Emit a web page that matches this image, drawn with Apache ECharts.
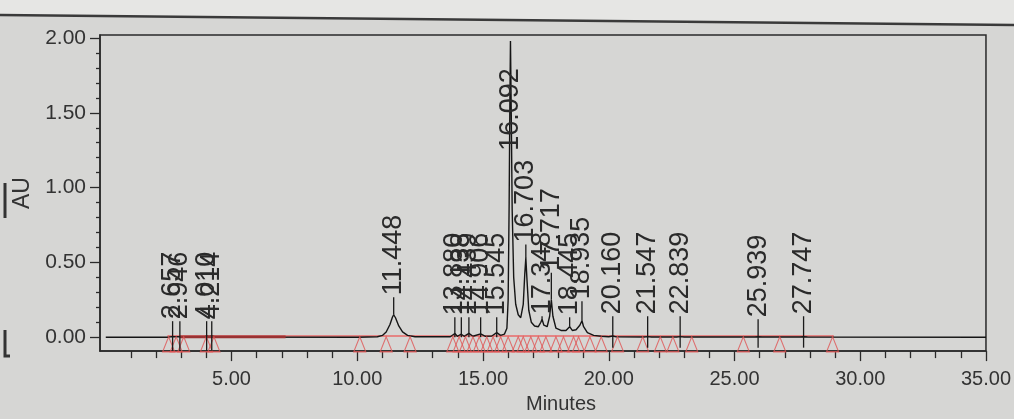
<!DOCTYPE html>
<html><head><meta charset="utf-8">
<script src="https://cdn.jsdelivr.net/npm/echarts@6/dist/echarts.min.js"></script>
<style>html,body{margin:0;padding:0;background:#d6d6d4;}#c{width:1014px;height:419px;}</style>
</head><body><div id="c"></div>
<script>
// ---- data ----
const traceTime = [0, 2.5, 2.62, 2.657, 2.75, 2.9, 2.946, 3.05, 3.9, 4.01, 4.1, 4.214, 4.35,
  10.0, 10.8, 11.0, 11.15, 11.3, 11.4, 11.448, 11.52, 11.65, 11.8, 12.0, 12.3,
  13.7, 13.88, 13.98, 14.138, 14.25, 14.439, 14.6, 14.906, 15.1, 15.35, 15.545, 15.7, 15.85, 15.95,
  16.0, 16.04, 16.07, 16.092, 16.12, 16.16, 16.22, 16.3, 16.4, 16.5, 16.6, 16.66, 16.703, 16.75, 16.82, 16.92,
  17.05, 17.2, 17.3, 17.348, 17.42, 17.55, 17.65, 17.717, 17.78, 17.9, 18.1, 18.3, 18.445, 18.55, 18.7, 18.85,
  18.935, 19.0, 19.15, 19.4, 19.7, 20.0, 20.16, 20.3, 21.4, 21.547, 21.7, 22.7, 22.839, 23.0, 25.8, 25.939, 26.1,
  27.6, 27.747, 27.9, 35];
const traceAU = [0, 0, 0.004, 0.012, 0.003, 0.004, 0.01, 0.002, 0.001, 0.008, 0.003, 0.008, 0.001,
  0, 0.003, 0.012, 0.035, 0.085, 0.135, 0.15, 0.13, 0.075, 0.035, 0.012, 0.003,
  0.003, 0.025, 0.006, 0.02, 0.006, 0.025, 0.006, 0.022, 0.006, 0.008, 0.03, 0.012, 0.02, 0.06,
  0.25, 0.9, 1.6, 1.98, 1.55, 0.85, 0.4, 0.22, 0.15, 0.13, 0.22, 0.42, 0.53, 0.38, 0.18, 0.1,
  0.075, 0.07, 0.1, 0.12, 0.08, 0.07, 0.14, 0.25, 0.14, 0.06, 0.045, 0.045, 0.07, 0.045, 0.05, 0.08,
  0.11, 0.07, 0.03, 0.012, 0.006, 0.003, 0.008, 0.002, 0.001, 0.004, 0.001, 0.001, 0.004, 0.001, 0.001, 0.003, 0.001,
  0.001, 0.003, 0.001, 0];

const peakLabels = ['2.657', '2.946', '4.010', '4.214', '11.448', '13.880', '14.138', '14.439', '14.906', '15.545',
  '16.092', '16.703', '17.348', '17.717', '18.445', '18.935', '20.160', '21.547', '22.839', '25.939', '27.747'];
const peakTimes = [2.657, 2.946, 4.010, 4.214, 11.448, 13.880, 14.138, 14.439, 14.906, 15.545,
  16.092, 16.703, 17.348, 17.717, 18.445, 18.935, 20.160, 21.547, 22.839, 25.939, 27.747];
const stemLow = [-0.09, -0.09, -0.09, -0.09, 0.15, 0.0, 0.0, 0.0, 0.0, 0.0,
  1.233, 0.53, 0.12, 0.25, 0.07, 0.11, -0.07, -0.07, -0.07, -0.07, -0.07];
const labelBase = [0.107, 0.107, 0.107, 0.107, 0.267, 0.133, 0.133, 0.133, 0.133, 0.133,
  1.233, 0.62, 0.14, 0.43, 0.133, 0.24, 0.14, 0.14, 0.14, 0.12, 0.14];

const triTimes = [2.5, 2.8, 3.1, 4.0, 4.3, 10.1, 11.15, 12.1, 13.8, 14.05, 14.3, 14.6, 14.85, 15.15, 15.4, 15.7,
  16.0, 16.4, 16.6, 16.9, 17.2, 17.5, 17.9, 18.2, 18.6, 18.8, 19.25, 19.7, 20.35, 21.35, 22.05, 22.55, 23.3,
  25.35, 26.8, 28.9];
const triLevel = -0.047;

const baselineTimes = [2.45, 28.95];
const baselineAU = [0.008, 0.008];
const darkBaseTimes = [2.95, 7.15];
const darkBaseAU = [0.002, 0.002];

const xMajorTicks = [5, 10, 15, 20, 25, 30, 35];
const xMinorTicks = [1, 2, 3, 4, 6, 7, 8, 9, 11, 12, 13, 14, 16, 17, 18, 19, 21, 22, 23, 24, 26, 27, 28, 29, 31, 32, 33, 34];
const yMajorTicks = [0, 0.5, 1.0, 1.5, 2.0];
const yMinorTicks = [0.1, 0.2, 0.3, 0.4, 0.6, 0.7, 0.8, 0.9, 1.1, 1.2, 1.3, 1.4, 1.6, 1.7, 1.8, 1.9];

// ---- chart ----
const FONT = "'Liberation Sans', Arial, sans-serif";
const AX = '#2a2a2a';
const XMIN = -0.23, XMAX = 35, YMIN = -0.093, YMAX = 2.02;
const chart = echarts.init(document.getElementById('c'));

const trace = traceTime.map((t, i) => [t, traceAU[i]]);
const labelsData = peakTimes.map((t, i) => [t, stemLow[i], labelBase[i]]);

const option = {
  backgroundColor: '#d6d6d4',
  animation: false,
  graphic: [
    {type: 'polygon', shape: {points: [[0, 0], [1014, 0], [1014, 25], [0, 15]]}, style: {fill: '#e6e6e4'}, z: -10},
    {type: 'line', shape: {x1: 0, y1: 15, x2: 1014, y2: 25}, style: {stroke: '#3a3a3a', lineWidth: 2.5}},
    {type: 'line', shape: {x1: 5, y1: 183, x2: 5, y2: 218}, style: {stroke: '#333', lineWidth: 3}},
    {type: 'polyline', shape: {points: [[5, 330], [5, 356], [10, 356]]}, style: {stroke: '#333', lineWidth: 3, fill: null}}
  ],
  grid: {left: 100, right: 17, top: 35, bottom: 67, show: true, borderColor: AX, borderWidth: 1.5, backgroundColor: 'transparent'},
  xAxis: [
    {type: 'value', min: XMIN, max: XMAX, position: 'bottom',
      axisLine: {show: true, onZero: false, lineStyle: {color: AX, width: 1.5}},
      axisTick: {show: true, customValues: xMajorTicks, length: 10, lineStyle: {color: AX, width: 1.3}},
      axisLabel: {show: true, customValues: xMajorTicks, formatter: v => Number(v).toFixed(2),
        fontSize: 20, fontFamily: FONT, color: '#333', margin: 18},
      splitLine: {show: false},
      name: 'Minutes', nameLocation: 'middle', nameGap: 41,
      nameTextStyle: {fontSize: 20, fontFamily: FONT, color: '#333', padding: [0, 0, 0, 36]}},
    {type: 'value', min: XMIN, max: XMAX, position: 'bottom',
      axisLine: {show: false, onZero: false},
      axisTick: {show: true, customValues: xMinorTicks, length: 7, lineStyle: {color: AX, width: 1.3}},
      axisLabel: {show: false}, splitLine: {show: false}}
  ],
  yAxis: [
    {type: 'value', min: YMIN, max: YMAX, position: 'left',
      axisLine: {show: true, onZero: false, lineStyle: {color: AX, width: 1.5}},
      axisTick: {show: true, customValues: yMajorTicks, length: 10, lineStyle: {color: AX, width: 1.3}},
      axisLabel: {show: true, customValues: yMajorTicks, formatter: v => Number(v).toFixed(2),
        fontSize: 21, fontFamily: FONT, color: '#333', margin: 14},
      splitLine: {show: false},
      name: 'AU', nameLocation: 'middle', nameGap: 65, nameRotate: 90,
      nameTextStyle: {fontSize: 23, fontFamily: FONT, color: '#333', padding: [0, 0, 0, 0]}},
    {type: 'value', min: YMIN, max: YMAX, position: 'left',
      axisLine: {show: false, onZero: false},
      axisTick: {show: true, customValues: yMinorTicks, length: 4, lineStyle: {color: AX, width: 1.3}},
      axisLabel: {show: false}, splitLine: {show: false}}
  ],
  series: [
    {type: 'line', name: 'baseline', data: baselineTimes.map((t, i) => [t, baselineAU[i]]),
      symbol: 'none', lineStyle: {color: '#e86a6a', width: 1.4}, z: 2, silent: true},
    {type: 'line', name: 'baseline2', data: darkBaseTimes.map((t, i) => [t, darkBaseAU[i]]),
      symbol: 'none', lineStyle: {color: '#9a3232', width: 2.6}, z: 4, silent: true},
    {type: 'line', name: 'trace', data: trace, symbol: 'none',
      lineStyle: {color: '#151515', width: 1.4}, z: 3, silent: true},
    {type: 'scatter', name: 'marks', data: triTimes.map(t => [t, triLevel]),
      symbol: 'triangle', symbolSize: [12, 15],
      itemStyle: {color: 'rgba(0,0,0,0)', borderColor: '#e05555', borderWidth: 1.2}, z: 5, silent: true},
    {type: 'custom', name: 'labels', data: labelsData, z: 6, silent: true, clip: false,
      renderItem: function (params, api) {
        const t = api.value(0);
        const p1 = api.coord([t, api.value(1)]);
        const p2 = api.coord([t, api.value(2)]);
        const children = [];
        if (Math.abs(p1[1] - p2[1]) > 0.5) {
          children.push({type: 'line', shape: {x1: p1[0], y1: p1[1], x2: p2[0], y2: p2[1]},
            style: {stroke: '#1a1a1a', lineWidth: 1.3}});
        }
        children.push({type: 'text', x: p2[0], y: p2[1] - 2, rotation: Math.PI / 2,
          style: {text: peakLabels[params.dataIndex], fill: '#2a2a2a', fontSize: 27, fontFamily: FONT,
            align: 'left', verticalAlign: 'middle'}});
        return {type: 'group', children: children};
      }}
  ]
};
chart.setOption(option);
</script></body></html>
